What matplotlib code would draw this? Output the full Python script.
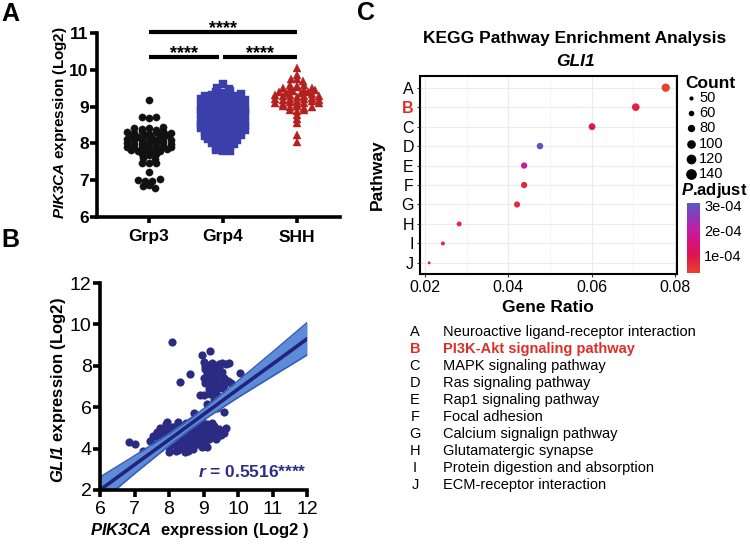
import numpy as np
import matplotlib
matplotlib.use('Agg')
import matplotlib.pyplot as plt
from matplotlib.colors import LinearSegmentedColormap, Normalize
from matplotlib.cm import ScalarMappable

plt.rcParams['font.family'] = ['Liberation Sans', 'DejaVu Sans']
plt.rcParams['mathtext.fontset'] = 'custom'
plt.rcParams['mathtext.rm'] = 'Liberation Sans'
plt.rcParams['mathtext.it'] = 'Liberation Sans:italic'
plt.rcParams['mathtext.bf'] = 'Liberation Sans:bold'
plt.rcParams['mathtext.bfit'] = 'Liberation Sans:bold:italic'

# ---- panel A data: PIK3CA expression per subgroup
groups = ['Grp3', 'Grp4', 'SHH']
grp3 = [9.18,
        8.72, 8.70, 8.71,
        8.42, 8.38, 8.41, 8.36, 8.44,
        8.31, 8.28, 8.33, 8.26, 8.30, 8.34, 8.27,
        8.21, 8.18, 8.22, 8.16, 8.20, 8.24,
        8.11, 8.08, 8.12, 8.06, 8.10, 8.14, 8.09,
        8.01, 7.98, 8.02, 7.96, 8.00, 8.04, 7.99,
        7.91, 7.88, 7.92, 7.86, 7.90, 7.94, 7.89,
        7.81, 7.78, 7.82, 7.76, 7.80, 7.84,
        7.71, 7.68, 7.72,
        7.61, 7.58,
        7.48, 7.46, 7.47,
        7.21,
        7.01, 6.98, 6.99, 7.02,
        6.86, 6.84,
        6.80]
grp4 = [9.62,
        9.50, 9.48,
        9.40, 9.38, 9.42,
        9.30, 9.32, 9.28, 9.31, 9.29, 9.33,
        9.21, 9.19, 9.22, 9.18, 9.20, 9.23, 9.17,
        9.11, 9.09, 9.12, 9.08, 9.10, 9.13,
        9.01, 8.99, 9.02, 8.98, 9.00, 9.03, 8.97,
        8.91, 8.89, 8.92, 8.88, 8.90, 8.93, 8.87,
        8.81, 8.79, 8.82, 8.78, 8.80, 8.83, 8.77,
        8.71, 8.69, 8.72, 8.68, 8.70, 8.73,
        8.61, 8.59, 8.62, 8.58, 8.60, 8.63, 8.57,
        8.51, 8.49, 8.52, 8.48, 8.50, 8.53, 8.47,
        8.41, 8.39, 8.42, 8.38, 8.40, 8.43, 8.37,
        8.31, 8.29, 8.32, 8.28, 8.30, 8.33,
        8.21, 8.19, 8.22, 8.18, 8.20, 8.23,
        8.11, 8.09, 8.12, 8.08, 8.10,
        8.01, 7.99, 8.02, 7.98,
        7.91, 7.89, 7.92,
        7.81, 7.79, 7.80]
shh = [10.05,
       9.86, 9.75, 9.74, 9.70,
       9.58, 9.55, 9.60,
       9.50, 9.48, 9.52, 9.46, 9.51,
       9.41, 9.38, 9.42, 9.36, 9.40, 9.44,
       9.31, 9.28, 9.32, 9.26, 9.30, 9.34, 9.29,
       9.21, 9.18, 9.22, 9.16, 9.20, 9.24, 9.19,
       9.11, 9.08, 9.12, 9.06, 9.10, 9.14, 9.09,
       9.01, 8.98, 9.02, 8.96, 9.00,
       8.91, 8.88, 8.92,
       8.78, 8.66, 8.55,
       8.23, 8.05]
group_vals = [grp3, grp4, shh]
sig_pairs = [(0, 2), (0, 0.95), (1.0, 2)]
sig_heights = [11.03, 10.35, 10.35]
sig_text = ['****', '****', '****']

# ---- panel B data: PIK3CA vs GLI1
pik3ca_expr = [7.45, 7.55, 7.6, 7.7, 7.75, 7.8, 7.85, 7.9, 7.9, 7.95, 8.0, 8.0, 8.05, 8.1, 8.1,
               8.15, 8.15, 8.2, 8.2, 8.25, 8.25, 8.3, 8.3, 8.35, 8.35, 8.4, 8.4, 8.45, 8.45, 8.5,
               8.5, 8.55, 8.55, 8.6, 8.6, 8.65, 8.65, 8.7, 8.7, 8.75, 8.75, 8.8, 8.8, 8.85, 8.85,
               8.9, 8.9, 8.95, 8.95, 9.0, 9.0, 9.05, 9.05, 9.1, 9.1, 9.15, 9.2, 9.2, 9.25, 9.3,
               9.35, 9.4, 9.45, 9.5, 9.6, 9.65, 8.05, 8.2, 8.35, 8.45, 8.6, 8.75, 8.9, 9.0, 8.15,
               8.3, 8.5, 8.7, 8.85, 9.15, 8.0, 8.4, 8.6, 8.8, 9.05, 7.75, 7.95, 8.65, 9.25, 9.35,
               8.25, 8.55, 8.95, 9.1, 7.65,
               8.95, 9.2, 9.0, 9.1, 9.25, 9.35, 9.45, 9.55, 9.65, 9.75, 9.05, 9.2, 9.4, 9.55, 9.3,
               9.5, 9.0, 9.15, 9.35, 9.6, 9.05, 9.25, 9.45, 9.6, 9.8, 9.15, 9.35, 9.55, 9.0, 9.2,
               9.4, 9.3, 9.5, 9.1, 9.4, 9.6, 9.1, 9.45, 9.25, 9.7, 8.9, 9.05, 9.65, 9.35,
               8.08, 8.32, 8.6, 10.07, 6.85, 7.0, 7.25, 8.72]
gli1_expr = [4.35, 4.6, 4.2, 4.45, 4.05, 4.7, 4.3, 4.9, 5.2, 4.55, 4.1, 3.85, 4.75, 4.4, 5.05,
             4.2, 4.95, 3.9, 4.6, 5.3, 4.35, 4.8, 4.05, 5.1, 4.55, 4.25, 4.95, 3.85, 4.7, 5.25,
             4.45, 4.1, 4.85, 5.0, 4.6, 4.3, 5.35, 4.75, 4.0, 5.55, 4.5, 4.9, 4.2, 5.15, 4.65,
             4.4, 5.3, 4.8, 4.1, 5.05, 4.55, 4.3, 4.9, 5.2, 4.7, 4.45, 5.0, 4.8, 4.6, 5.1,
             4.85, 4.55, 4.95, 4.65, 4.75, 5.0, 4.95, 5.1, 4.75, 5.0, 4.85, 4.95, 4.95, 4.8, 4.6,
             4.45, 4.7, 4.55, 4.35, 4.95, 4.55, 4.1, 4.15, 4.6, 4.6, 5.0, 5.3, 5.2, 5.25, 4.45,
             3.95, 3.9, 5.5, 4.1, 4.8,
             8.5, 8.7, 8.2, 8.05, 8.15, 8.0, 8.1, 8.15, 8.1, 8.15, 7.85, 7.8, 7.75, 7.7, 7.6,
             7.5, 7.4, 7.45, 7.35, 7.4, 7.15, 7.2, 7.1, 7.05, 7.15, 6.9, 6.85, 6.95, 6.6, 6.65,
             6.6, 6.35, 6.2, 6.15, 5.95, 5.75, 7.65, 7.95, 7.0, 7.25, 6.6, 8.0, 6.75, 7.55,
             9.15, 7.2, 7.58, 7.65, 4.3, 4.2, 3.9, 5.7]
fit_x = [6, 7, 8, 8.6, 9, 10, 11, 12]
fit_y = [2.0, 3.22, 4.43, 5.16, 5.65, 6.87, 8.08, 9.3]
fit_lo = [1.38, 2.79, 4.14, 4.90, 5.38, 6.47, 7.50, 8.52]
fit_hi = [2.62, 3.65, 4.72, 5.42, 5.92, 7.27, 8.66, 10.08]
r_text = r'$\mathbfit{r}$ = 0.5516****'

# ---- panel C data: KEGG enrichment for GLI1
pathway_letters = ['A', 'B', 'C', 'D', 'E', 'F', 'G', 'H', 'I', 'J']
pathway_names = ['Neuroactive ligand-receptor interaction', 'PI3K-Akt signaling pathway',
                 'MAPK signaling pathway', 'Ras signaling pathway', 'Rap1 signaling pathway',
                 'Focal adhesion', 'Calcium signalign pathway', 'Glutamatergic synapse',
                 'Protein digestion and absorption', 'ECM-receptor interaction']
gene_ratio = [0.0778, 0.0706, 0.0601, 0.0476, 0.0438, 0.0438, 0.0421, 0.0282, 0.0243, 0.0210]
gene_count = [94, 85, 73, 70, 67, 67, 66, 55, 49, 45]
p_adjust = [0.35e-4, 0.8e-4, 1.05e-4, 2.95e-4, 1.8e-4, 0.75e-4, 0.7e-4, 0.75e-4, 0.7e-4, 1.2e-4]
count_breaks = [50, 60, 80, 100, 120, 140]
padj_breaks = [1e-4, 2e-4, 3e-4]
padj_labels = ['1e-04', '2e-04', '3e-04']
highlight = 'B'

W, H = 750, 548
fig = plt.figure(figsize=(7.5, 5.48), dpi=100)


def box(x0, y0, x1, y1):
    # pixel box (top-left origin) -> figure fraction rect
    return [x0 / W, 1 - y1 / H, (x1 - x0) / W, (y1 - y0) / H]


def row_layout(vals, row_h, dx):
    rows = np.round(np.asarray(vals) / row_h).astype(int)
    xs = np.zeros(len(vals))
    for r in np.unique(rows):
        idx = np.where(rows == r)[0]
        n = len(idx)
        step = dx if n > 2 else dx * 1.6
        xs[idx] = (np.arange(n) - (n - 1) / 2) * step
    return xs


def dot_px(c):
    return 2.0 + 8.7 * np.sqrt(np.clip((np.asarray(c) - 44) / 96.0, 0, None))


# ================= A
axA = fig.add_axes(box(97, 33, 340, 217))
styles = [('o', '#111111', 5.2), ('s', '#3A3FAA', 5.7), ('^', '#B3201E', 6.2)]
for i, vals in enumerate(group_vals):
    m, c, ms = styles[i]
    xs = row_layout(vals, 0.1, 0.098)
    axA.plot(i + xs, vals, linestyle='none', marker=m, ms=ms, color=c, mec=c, mew=0.3)
axA.set_xlim(-0.7, 2.58)
axA.set_ylim(6, 11)
axA.set_yticks(range(6, 12))
axA.set_xticks(range(3))
axA.set_xticklabels(groups)
for lab in axA.get_xticklabels() + axA.get_yticklabels():
    lab.set_fontweight('bold')
    lab.set_fontsize(12.5)
axA.spines[['top', 'right']].set_visible(False)
for s in ['left', 'bottom']:
    axA.spines[s].set_linewidth(2.6)
axA.tick_params(axis='y', width=2.6, length=5, pad=1)
axA.tick_params(axis='x', width=2.6, length=4, pad=5)
for (a, b), yy, t in zip(sig_pairs, sig_heights, sig_text):
    axA.plot([a, b], [yy, yy], color='k', lw=3, clip_on=False, solid_capstyle='butt')
    axA.text((a + b) / 2, yy - 0.13, t, ha='center', va='bottom', fontsize=13,
             fontweight='bold', clip_on=False)

# ================= B
axB = fig.add_axes(box(100, 283, 307, 490))
axB.scatter(pik3ca_expr, gli1_expr, s=(8.2 * 0.72) ** 2, color='#2C2B83', lw=0, zorder=2)
axB.fill_between(fit_x, fit_lo, fit_hi, color='#5C8CD8', zorder=3, lw=0)
axB.plot(fit_x, fit_lo, color='#3A5FB8', lw=1.2, zorder=3)
axB.plot(fit_x, fit_hi, color='#3A5FB8', lw=1.2, zorder=3)
axB.plot(fit_x, fit_y, color='#22237A', lw=2.6, zorder=4)
axB.set_xlim(6, 12)
axB.set_ylim(2, 12)
axB.set_xticks(range(6, 13))
axB.set_yticks(range(2, 13, 2))
axB.spines[['top', 'right']].set_visible(False)
for s in ['left', 'bottom']:
    axB.spines[s].set_linewidth(2.6)
    axB.spines[s].set_zorder(5)
axB.tick_params(width=2.6, length=5, labelsize=14)
axB.tick_params(axis='y', pad=1)
axB.tick_params(axis='x', pad=3)
axB.text(12, 2.85, r_text, ha='right', va='center', color='#2E2C88', fontsize=12.5,
         fontweight='bold')

# ================= C
axC = fig.add_axes(box(420, 76, 677, 274))
cmap = LinearSegmentedColormap.from_list('padj', [(0, '#E8432A'), (0.25, '#E01450'),
                                                  (0.45, '#D6127E'), (0.61, '#C41CA4'),
                                                  (0.8, '#9136B8'), (1, '#5A58C4')])
norm = Normalize(0.3e-4, 3.08e-4)
ypos = np.arange(len(pathway_letters))
axC.set_axisbelow(True)
axC.scatter(gene_ratio, ypos, s=(dot_px(gene_count) * 0.72) ** 2, c=p_adjust, cmap=cmap,
            norm=norm, lw=0, zorder=3)
axC.set_xlim(0.0188, 0.0805)
axC.set_ylim(9.57, -0.6)
axC.set_xticks([0.02, 0.04, 0.06, 0.08])
axC.set_xticks([0.03, 0.05, 0.07], minor=True)
axC.set_yticks(ypos)
axC.set_yticklabels(pathway_letters)
axC.grid(which='major', color='#EBEBEB', lw=0.8)
axC.grid(which='minor', axis='x', color='#F4F4F4', lw=0.6)
axC.tick_params(which='major', length=2.5, color='#333333', labelsize=11.5, pad=2)
axC.tick_params(which='minor', length=0)
for lab in axC.get_yticklabels():
    if lab.get_text() == highlight:
        lab.set_color('#D9302A')
        lab.set_fontweight('bold')
for s in axC.spines.values():
    s.set_linewidth(1.5)

cax = fig.add_axes(box(687, 203, 700, 273))
cb = fig.colorbar(ScalarMappable(norm=norm, cmap=cmap), cax=cax)
cb.outline.set_visible(False)
cb.set_ticks(padj_breaks)
cb.set_ticklabels(padj_labels)
cax.tick_params(length=2, color='white', labelsize=10.5, pad=1)

# ================= text overlay (pixel coordinates)
ov = fig.add_axes([0, 0, 1, 1])
ov.set_xlim(0, W)
ov.set_ylim(H, 0)
ov.axis('off')

for t, x, y in [('A', 10, 14), ('B', 10, 240), ('C', 366, 13)]:
    ov.text(x, y, t, fontsize=18, fontweight='bold', ha='center', va='center')

ov.text(60, 123, r'$\mathbfit{PIK3CA}$ expression (Log2)', rotation=90, ha='center',
        va='center', fontsize=11, fontweight='bold')
ov.text(58, 390, r'$\mathbfit{GLI1}$ expression (Log2)', rotation=90, ha='center',
        va='center', fontsize=12, fontweight='bold')
ov.text(200, 530, r'$\mathbfit{PIK3CA}$  expression (Log2 )', ha='center', va='center',
        fontsize=12, fontweight='bold')

ov.text(575, 38, 'KEGG Pathway Enrichment Analysis', ha='center', va='center', fontsize=12.5,
        fontweight='bold')
ov.text(575, 61, 'GLI1', ha='center', va='center', fontsize=12.5, fontweight='bold',
        style='italic')
ov.text(377, 175, 'Pathway', rotation=90, ha='center', va='center', fontsize=12.5,
        fontweight='bold')
ov.text(548, 307, 'Gene Ratio', ha='center', va='center', fontsize=12.5, fontweight='bold')

ov.text(685, 84, 'Count', ha='left', va='center', fontsize=12.5, fontweight='bold')
for k, c in enumerate(count_breaks):
    yy = 98 + 15.2 * k
    ov.scatter([691], [yy], s=(dot_px(c) * 0.72) ** 2, color='black', lw=0)
    ov.text(699, yy, str(c), ha='left', va='center', fontsize=10.5)
ov.text(681, 190, r'$\mathbfit{P}$.adjust', ha='left', va='center', fontsize=12,
        fontweight='bold')

for k, (lt, nm) in enumerate(zip(pathway_letters, pathway_names)):
    yy = 332 + 17 * k
    hl = lt == highlight
    col = '#D9302A' if hl else 'black'
    fw = 'bold' if hl else 'normal'
    ov.text(415, yy, lt, ha='center', va='center', fontsize=10.5, color=col, fontweight=fw)
    ov.text(443, yy, nm, ha='left', va='center', fontsize=10.5, color=col, fontweight=fw)

fig.savefig('out.png', dpi=100)
